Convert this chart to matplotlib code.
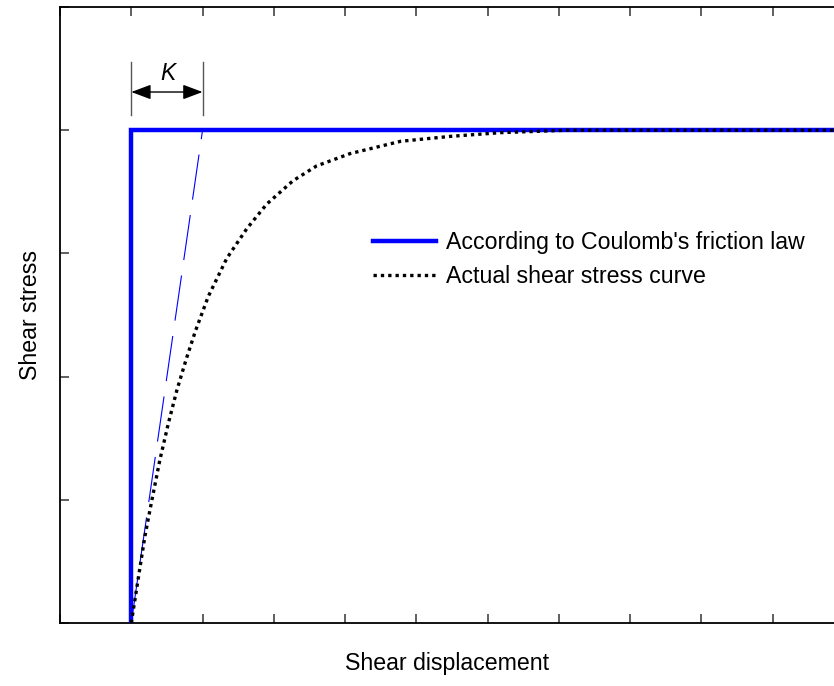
import matplotlib
matplotlib.use("Agg")
import matplotlib.pyplot as plt

plt.rcParams['font.family'] = ['Liberation Sans', 'DejaVu Sans']

# Coulomb (ideal) law: jumps straight to the peak stress, then constant
coulomb_x = [1, 1, 11]
coulomb_y = [0, 4, 4]

# initial stiffness K, tangent to the actual curve
tangent_x = [1, 2]
tangent_y = [0, 4]

# actual shear stress curve
actual_x = [1.00, 1.10, 1.19, 1.29, 1.40, 1.52, 1.64, 1.77, 1.90, 2.08, 2.34, 2.62,
            2.90, 3.27, 3.60, 4.07, 4.78, 5.48, 6.18, 7.12, 8.0, 9.0, 10.0, 11.0]
actual_y = [0.00, 0.37, 0.70, 1.00, 1.32, 1.62, 1.89, 2.14, 2.37, 2.65, 2.96, 3.20,
            3.40, 3.59, 3.71, 3.81, 3.91, 3.95, 3.98, 4.00, 4.00, 4.00, 4.00, 4.00]

fig = plt.figure(figsize=(8.34, 6.86), dpi=100)
# axes runs a little past the right edge of the figure, as in the original
ax = fig.add_axes([60 / 834, 1 - 623 / 686, 784 / 834, 616 / 686])

ax.plot(coulomb_x, coulomb_y, color='#0000ff', lw=3.2, solid_joinstyle='miter',
        label="According to Coulomb's friction law", zorder=3)
ax.plot(tangent_x, tangent_y, color='#0000ff', lw=0.8, linestyle=(0, (41, 14)), zorder=2)
ax.plot(actual_x, actual_y, color='black', lw=2.4, linestyle=(0, (1.0, 1.2)),
        dash_capstyle='butt', label='Actual shear stress curve', zorder=4)

# K dimension marker
ax.plot([1, 1], [4.12, 4.55], color='#555555', lw=1)
ax.plot([2, 2], [4.12, 4.55], color='#555555', lw=1)
ax.annotate('', xy=(2, 4.31), xytext=(1, 4.31),
            arrowprops=dict(arrowstyle='<|-|>,head_length=12,head_width=4.5',
                            mutation_scale=1, color='black', lw=1,
                            shrinkA=0, shrinkB=0))
ax.text(1.515, 4.46, 'K', style='italic', fontsize=16.5, ha='center', va='center')

ax.set_xlim(0, 11)
ax.set_ylim(0, 5)
ax.set_xticks(range(0, 12))
ax.set_yticks(range(0, 6))
ax.tick_params(direction='in', length=6.5, width=1.2, color='#444444',
               top=True, right=True, labelbottom=False, labelleft=False)
for s in ax.spines.values():
    s.set_linewidth(1.3)

ax.set_xlabel('Shear displacement', fontsize=16.7)
ax.xaxis.set_label_coords((447 - 60) / 784, -0.047)
ax.set_ylabel('Shear stress', fontsize=16.7)
ax.yaxis.set_label_coords(-0.023, 0.5)

ax.legend(loc='center left', bbox_to_anchor=((373 - 60) / 784, 0.59),
          frameon=False, fontsize=16.7, handlelength=2.7, handletextpad=0.43,
          labelspacing=0.48, borderpad=0, borderaxespad=0)

fig.savefig('out.png', dpi=100)
